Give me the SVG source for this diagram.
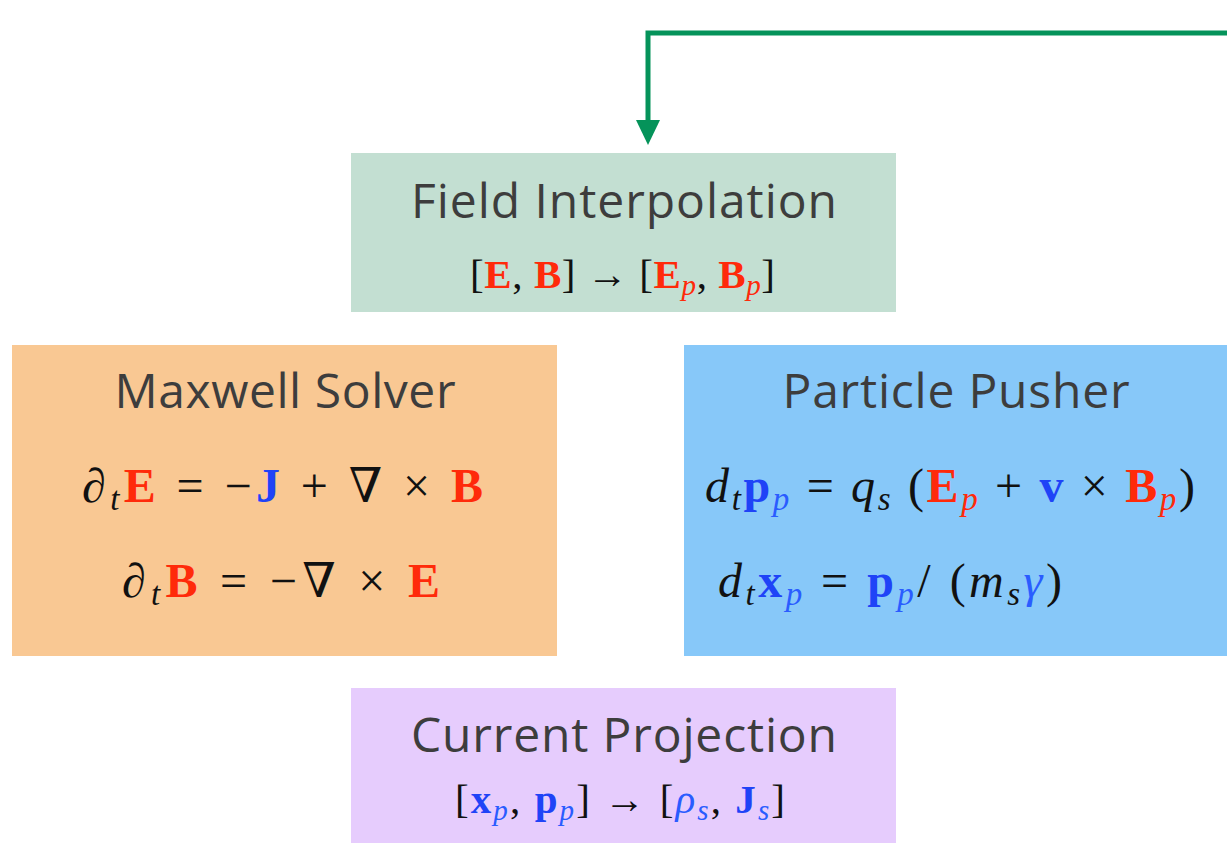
<svg xmlns="http://www.w3.org/2000/svg" width="1227" height="843" viewBox="0 0 1227 843">
<style>
.title{font-family:"Open Sans","Liberation Sans",sans-serif;font-size:48px;fill:#3d3d3d;text-anchor:middle}
.m{font-family:"Liberation Serif","DejaVu Serif",serif;fill:#111}
.b{font-weight:bold}
.i{font-style:italic}
.r{fill:#ff2a0a}
.bl{fill:#1f43f7}
.bs{fill:#2a5cff}
.conn{fill:none;stroke:#05935a;stroke-width:5}
</style>
<defs>
<marker id="ah" viewBox="0 0 25 24" refX="0" refY="12" markerWidth="25" markerHeight="24" markerUnits="userSpaceOnUse" orient="auto">
<path d="M0,0 L25,12 L0,24 z" fill="#05935a"/>
</marker>
</defs>
<rect width="1227" height="843" fill="#ffffff"/>
<g id="connectors">
<path class="conn" d="M1230,33 H648 V120" marker-end="url(#ah)"/>
</g>
<g id="field-interpolation">
<rect x="351" y="153" width="545" height="159" fill="#c3dfd2"/>
<text class="title" x="624" y="218" textLength="426">Field Interpolation</text>
<text class="m" x="470" y="288" font-size="41" textLength="305">[<tspan class="b r">E</tspan>, <tspan class="b r">B</tspan>] → [<tspan class="b r">E</tspan><tspan class="i r" font-size="29" dy="7">p</tspan><tspan dy="-7">, </tspan><tspan class="b r">B</tspan><tspan class="i r" font-size="29" dy="7">p</tspan><tspan dy="-7">]</tspan></text>
</g>
<g id="maxwell-solver">
<rect x="12" y="345" width="545" height="311" fill="#f9c893"/>
<text class="title" x="285" y="408" textLength="341">Maxwell Solver</text>
<text class="m" x="82" y="502" font-size="48" textLength="401"><tspan class="i">∂</tspan><tspan class="i" font-size="33" dy="8">t</tspan><tspan class="b r" dy="-8">E</tspan> = −<tspan class="b bl">J</tspan> + ∇ × <tspan class="b r">B</tspan></text>
<text class="m" x="122" y="597" font-size="48" textLength="318"><tspan class="i">∂</tspan><tspan class="i" font-size="33" dy="8">t</tspan><tspan class="b r" dy="-8">B</tspan> = −∇ × <tspan class="b r">E</tspan></text>
</g>
<g id="particle-pusher">
<rect x="684" y="345" width="545" height="311" fill="#87c8f9"/>
<text class="title" x="956" y="408" textLength="347">Particle Pusher</text>
<text class="m" x="705" y="502" font-size="48" textLength="490"><tspan class="i">d</tspan><tspan class="i" font-size="33" dy="8">t</tspan><tspan class="b bl" dy="-8">p</tspan><tspan class="i bs" font-size="33" dy="8">p</tspan><tspan dy="-8"> = </tspan><tspan class="i">q</tspan><tspan class="i" font-size="33" dy="8">s</tspan><tspan dy="-8"> (</tspan><tspan class="b r">E</tspan><tspan class="i r" font-size="33" dy="8">p</tspan><tspan dy="-8"> + </tspan><tspan class="b bl">v</tspan> × <tspan class="b r">B</tspan><tspan class="i r" font-size="33" dy="8">p</tspan><tspan dy="-8">)</tspan></text>
<text class="m" x="718" y="597" font-size="48" textLength="344"><tspan class="i">d</tspan><tspan class="i" font-size="33" dy="8">t</tspan><tspan class="b bl" dy="-8">x</tspan><tspan class="i bs" font-size="33" dy="8">p</tspan><tspan dy="-8"> = </tspan><tspan class="b bl">p</tspan><tspan class="i bs" font-size="33" dy="8">p</tspan><tspan dy="-8">/ (</tspan><tspan class="i">m</tspan><tspan class="i" font-size="33" dy="8">s</tspan><tspan class="i bs" dy="-8">γ</tspan>)</text>
</g>
<g id="current-projection">
<rect x="351" y="688" width="545" height="155" fill="#e6ccfd"/>
<text class="title" x="624" y="752" textLength="426">Current Projection</text>
<text class="m" x="455" y="813" font-size="41" textLength="330">[<tspan class="b bl">x</tspan><tspan class="i bs" font-size="29" dy="7">p</tspan><tspan dy="-7">, </tspan><tspan class="b bl">p</tspan><tspan class="i bs" font-size="29" dy="7">p</tspan><tspan dy="-7">] → [</tspan><tspan class="i bs">ρ</tspan><tspan class="i bs" font-size="29" dy="7">s</tspan><tspan dy="-7">, </tspan><tspan class="b bl">J</tspan><tspan class="i bs" font-size="29" dy="7">s</tspan><tspan dy="-7">]</tspan></text>
</g>
</svg>
